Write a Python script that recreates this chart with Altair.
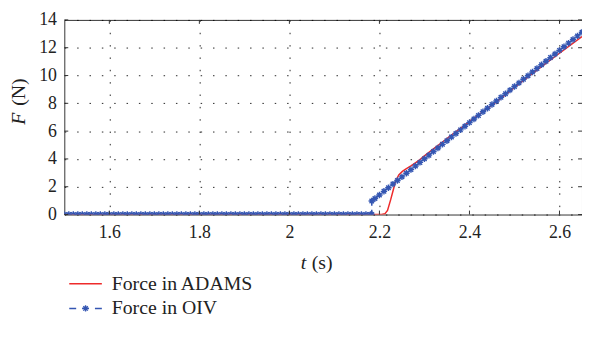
import altair as alt
import pandas as pd

# ---- data ----
blue_t = [1.50, 1.51, 1.52, 1.53, 1.54, 1.55, 1.56, 1.57, 1.58, 1.59,
          1.60, 1.61, 1.62, 1.63, 1.64, 1.65, 1.66, 1.67, 1.68, 1.69,
          1.70, 1.71, 1.72, 1.73, 1.74, 1.75, 1.76, 1.77, 1.78, 1.79,
          1.80, 1.81, 1.82, 1.83, 1.84, 1.85, 1.86, 1.87, 1.88, 1.89,
          1.90, 1.91, 1.92, 1.93, 1.94, 1.95, 1.96, 1.97, 1.98, 1.99,
          2.00, 2.01, 2.02, 2.03, 2.04, 2.05, 2.06, 2.07, 2.08, 2.09,
          2.10, 2.11, 2.12, 2.13, 2.14, 2.15, 2.16, 2.17, 2.18, 2.183,
          2.183, 2.19, 2.20, 2.21, 2.22, 2.23, 2.24, 2.25, 2.26, 2.27,
          2.28, 2.29, 2.30, 2.31, 2.32, 2.33, 2.34, 2.35, 2.36, 2.37,
          2.38, 2.39, 2.40, 2.41, 2.42, 2.43, 2.44, 2.45, 2.46, 2.47,
          2.48, 2.49, 2.50, 2.51, 2.52, 2.53, 2.54, 2.55, 2.56, 2.57,
          2.58, 2.59, 2.60, 2.61, 2.62, 2.63, 2.64, 2.65]
blue_f = [0, 0, 0, 0, 0, 0, 0, 0, 0, 0,
          0, 0, 0, 0, 0, 0, 0, 0, 0, 0,
          0, 0, 0, 0, 0, 0, 0, 0, 0, 0,
          0, 0, 0, 0, 0, 0, 0, 0, 0, 0,
          0, 0, 0, 0, 0, 0, 0, 0, 0, 0,
          0, 0, 0, 0, 0, 0, 0, 0, 0, 0,
          0, 0, 0, 0, 0, 0, 0, 0, 0, 0,
          0.97, 1.15, 1.41, 1.67, 1.93, 2.19, 2.45, 2.71, 2.97, 3.23,
          3.49, 3.75, 4.01, 4.27, 4.53, 4.79, 5.05, 5.31, 5.57, 5.83,
          6.09, 6.35, 6.61, 6.87, 7.13, 7.39, 7.65, 7.91, 8.17, 8.43,
          8.69, 8.95, 9.21, 9.47, 9.73, 9.99, 10.25, 10.51, 10.77, 11.03,
          11.29, 11.55, 11.81, 12.07, 12.33, 12.59, 12.85, 13.11]

red_t = [1.50, 2.18, 2.205, 2.212, 2.218, 2.225, 2.231, 2.236, 2.243, 2.251,
         2.26, 2.27, 2.28, 2.29, 2.30, 2.32, 2.34, 2.36, 2.38, 2.40,
         2.43, 2.46, 2.50, 2.53, 2.566, 2.60, 2.65]
red_f = [0, 0, 0, 0.05, 0.3, 1.07, 1.8, 2.4, 2.85, 3.1,
         3.3, 3.5, 3.72, 3.95, 4.22, 4.72, 5.22, 5.72, 6.2, 6.68,
         7.4, 8.1, 9.15, 9.9, 10.78, 11.6, 12.8]

series_names = ["Force in ADAMS", "Force in OIV"]
x_ticks = [1.6, 1.8, 2.0, 2.2, 2.4, 2.6]
y_ticks = [0, 2, 4, 6, 8, 10, 12, 14]

RED = "#ee2b2b"
BLUE = "#3456b2"
W, H = 524, 197
FONT = "Liberation Serif"

red_df = pd.DataFrame({"t": red_t, "F": red_f, "i": range(len(red_t))})
blue_df = pd.DataFrame({"t": blue_t, "F": blue_f, "i": range(len(blue_t))})

xs = alt.Scale(domain=[1.5, 2.65], nice=False, zero=False)
ys = alt.Scale(domain=[0, 14], nice=False, zero=False)

xax = alt.Axis(values=x_ticks, format=".1~f", grid=True, ticks=False,
               domain=False, labelPadding=9, title=None, labelOverlap=False, labelFlush=False)
yax = alt.Axis(values=y_ticks, format="d", grid=True, ticks=False, domain=False,
               labelPadding=8, title=None, labelOverlap=False, labelFlush=False)

def X(f):
    return alt.X(f, scale=xs, axis=xax)

def Y(f):
    return alt.Y(f, scale=ys, axis=yax)

red_line = alt.Chart(red_df).mark_line(strokeWidth=1.5, color=RED, clip=True).encode(
    x=X("t:Q"), y=Y("F:Q"), order="i:Q",
)
blue_line = alt.Chart(blue_df).mark_line(strokeWidth=1.5, color=BLUE, strokeDash=[6, 4], clip=True).encode(
    x=X("t:Q"), y=Y("F:Q"), order="i:Q",
)

star = "M-1,0L1,0M0,-1L0,1M-0.7,-0.7L0.7,0.7M-0.7,0.7L0.7,-0.7"
points = alt.Chart(blue_df).mark_point(shape=star, filled=False, size=42,
                                       strokeWidth=1.4, color=BLUE, opacity=1, clip=True).encode(
    x=X("t:Q"), y=Y("F:Q"),
)

xt = pd.DataFrame({"t": x_ticks})
yt = pd.DataFrame({"F": y_ticks})
tick_style = dict(color="#333", strokeWidth=1)
xb = alt.Chart(xt).mark_rule(**tick_style).encode(x=X("t:Q"), y=alt.value(H), y2=alt.value(H - 4))
xtp = alt.Chart(xt).mark_rule(**tick_style).encode(x=X("t:Q"), y=alt.value(0), y2=alt.value(4))
yl = alt.Chart(yt).mark_rule(**tick_style).encode(y=Y("F:Q"), x=alt.value(0), x2=alt.value(4))
yr = alt.Chart(yt).mark_rule(**tick_style).encode(y=Y("F:Q"), x=alt.value(W), x2=alt.value(W - 4))

one = pd.DataFrame({"a": [1]})
def label(txt, x, y, italic=False, angle=0, align="center"):
    kw = dict(font=FONT, fontSize=20, color="#222", align=align, baseline="middle")
    if italic:
        kw["fontStyle"] = "italic"
    if angle:
        kw["angle"] = angle
    return alt.Chart(one).mark_text(text=txt, **kw).encode(x=alt.value(x), y=alt.value(y))

titles = [
    label("F", -46, 100, italic=True, angle=270),
    label("(N)", -46, 73, angle=270),
    label("t", 242, 246, italic=True),
    label("(s)", 261, 246),
]

# legend (drawn by hand)
LY1, LY2 = 267, 292
leg = [
    alt.Chart(one).mark_rule(color=RED, strokeWidth=1.5).encode(
        x=alt.value(5), x2=alt.value(38), y=alt.value(LY1)),
    alt.Chart(one).mark_rule(color=BLUE, strokeWidth=1.5, strokeDash=[7, 6]).encode(
        x=alt.value(5), x2=alt.value(38), y=alt.value(LY2)),
    alt.Chart(one).mark_point(shape=star, filled=False, size=42, strokeWidth=1.4,
                              color=BLUE, opacity=1).encode(x=alt.value(21.5), y=alt.value(LY2)),
    label(series_names[0], 48, LY1, align="left"),
    label(series_names[1], 48, LY2, align="left"),
]

chart = alt.layer(red_line, blue_line, points, xb, xtp, yl, yr, *titles, *leg).properties(
    width=W, height=H,
    autosize=alt.AutoSizeParams(type="none"),
    padding={"left": 57, "top": 10, "right": 0, "bottom": 130},
).configure_view(stroke="#333", strokeWidth=1).configure_axis(
    labelFont=FONT, labelFontSize=18, labelColor="#222",
    gridColor="#000", gridDash=[1.5, 11], gridWidth=1, gridOpacity=0.85,
)

chart.save("out.html", embed_options={"renderer": "svg", "actions": False})
